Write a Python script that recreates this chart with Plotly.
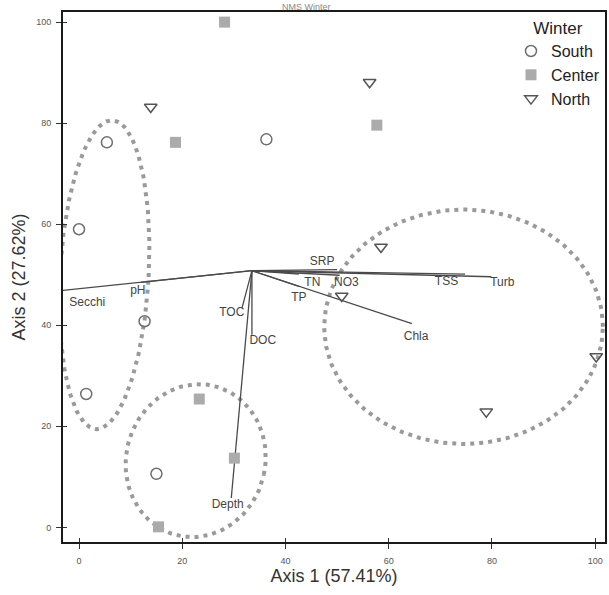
import numpy as np
import plotly.graph_objects as go

# Site scores on the two ordination axes
south_x = [5.4, 0.0, 36.3, 12.7, 1.4, 15.0]
south_y = [76.2, 59.0, 76.8, 40.8, 26.4, 10.6]
center_x = [28.2, 18.7, 57.7, 23.3, 30.1, 15.4]
center_y = [100.0, 76.2, 79.6, 25.4, 13.7, 0.1]
north_x = [13.9, 56.3, 58.5, 50.9, 100.2, 78.9]
north_y = [83.2, 88.1, 55.5, 45.8, 33.8, 22.9]

# Environmental vectors (joint plot) from the centroid
vec_origin = (33.5, 50.8)
vec_names = ["Secchi", "pH", "SRP", "TN", "NO3", "TSS", "Turb", "TP", "Chla", "TOC", "DOC", "Depth"]
vec_end_x = [-3.2, 12.0, 50.0, 42.6, 50.5, 74.8, 79.9, 42.6, 64.5, 31.6, 33.5, 29.5]
vec_end_y = [46.9, 48.5, 51.0, 50.1, 49.9, 50.1, 49.6, 47.7, 40.3, 43.5, 38.1, 5.8]
lab_x = [1.6, 11.4, 47.1, 45.2, 51.8, 71.2, 82.0, 42.6, 65.3, 29.6, 35.6, 28.8]
lab_y = [44.5, 46.8, 52.6, 48.4, 48.3, 48.6, 48.4, 45.4, 37.6, 42.4, 36.8, 4.5]

# Group ellipses: centre x, centre y, half-width, half-height, tilt (deg, clockwise)
ell_cx = [4.9, 22.6, 74.5]
ell_cy = [50.0, 13.2, 39.7]
ell_rx = [8.6, 13.5, 27.0]
ell_ry = [30.6, 15.2, 23.2]
ell_tilt = [3.0, 12.0, 0.0]

FONT = "Liberation Sans, Arial, sans-serif"

fig = go.Figure()

# Ellipses
t = np.linspace(0, 2 * np.pi, 240)
for cx, cy, rx, ry, tilt in zip(ell_cx, ell_cy, ell_rx, ell_ry, ell_tilt):
    a = np.deg2rad(tilt)
    ex = rx * np.cos(t)
    ey = ry * np.sin(t)
    xs = cx + ex * np.cos(a) + ey * np.sin(a)
    ys = cy - ex * np.sin(a) + ey * np.cos(a)
    fig.add_trace(go.Scatter(
        x=xs, y=ys, mode="lines", showlegend=False, hoverinfo="skip",
        line=dict(color="#9a9a9a", width=4, dash="4px,5px"),
    ))

# Vectors
for ex_, ey_ in zip(vec_end_x, vec_end_y):
    fig.add_trace(go.Scatter(
        x=[vec_origin[0], ex_], y=[vec_origin[1], ey_], mode="lines",
        showlegend=False, hoverinfo="skip",
        line=dict(color="#4a4a4a", width=1.3),
    ))
fig.add_trace(go.Scatter(
    x=lab_x, y=lab_y, text=vec_names, mode="text", showlegend=False,
    textfont=dict(family=FONT, size=12, color="#444444"), hoverinfo="skip",
))

# Sites
fig.add_trace(go.Scatter(
    x=south_x, y=south_y, mode="markers", name="South",
    marker=dict(symbol="circle-open", size=11, color="#6f6f6f", line=dict(width=1.5)),
))
fig.add_trace(go.Scatter(
    x=center_x, y=center_y, mode="markers", name="Center",
    marker=dict(symbol="square", size=11, color="#ababab"),
))
fig.add_trace(go.Scatter(
    x=north_x, y=north_y, mode="markers", name="North",
    marker=dict(symbol="triangle-down-open", size=11, color="#555555", line=dict(width=1.5)),
))

# Overlay axes to give ticks that cross the frame
fig.add_trace(go.Scatter(x=[None], y=[None], xaxis="x2", yaxis="y2", showlegend=False))

xr = [-3.1, 101.9]
yr = [-2.9, 102.0]
tick_font = dict(family=FONT, size=9, color="#555555")
title_font = dict(family=FONT, size=18, color="#333333")

fig.update_layout(
    width=609, height=595,
    margin=dict(l=63, r=2, t=12, b=53),
    paper_bgcolor="white", plot_bgcolor="white",
    font=dict(family=FONT, color="#333333"),
    xaxis=dict(
        range=xr, tickvals=[0, 20, 40, 60, 80, 100], showgrid=False, zeroline=False,
        showline=True, linewidth=2, linecolor="#1a1a1a", mirror=True,
        ticks="outside", ticklen=5, tickcolor="#333333", tickwidth=1,
        tickfont=tick_font, ticklabelstandoff=4,
        title=dict(text="Axis 1 (57.41%)", font=title_font, standoff=5),
    ),
    yaxis=dict(
        range=yr, tickvals=[0, 20, 40, 60, 80, 100], showgrid=False, zeroline=False,
        showline=True, linewidth=2, linecolor="#1a1a1a", mirror=True,
        ticks="outside", ticklen=5, tickcolor="#333333", tickwidth=1,
        tickfont=tick_font, ticklabelstandoff=3,
        title=dict(text="Axis 2 (27.62%)", font=title_font, standoff=6),
    ),
    xaxis2=dict(range=xr, overlaying="x", tickvals=[0, 20, 40, 60, 80, 100], showticklabels=False,
                ticks="inside", ticklen=4, tickcolor="#333333", showgrid=False, zeroline=False, anchor="y2"),
    yaxis2=dict(range=yr, overlaying="y", tickvals=[0, 20, 40, 60, 80, 100], showticklabels=False,
                ticks="inside", ticklen=4, tickcolor="#333333", showgrid=False, zeroline=False, anchor="x2"),
    legend=dict(
        x=1.0, y=1.0, xanchor="right", yanchor="top",
        bgcolor="rgba(255,255,255,0)", borderwidth=0,
        font=dict(family=FONT, size=16, color="#222222"),
        title=dict(text="Winter", side="top center", font=dict(family=FONT, size=17, color="#222222")),
        itemwidth=30, tracegroupgap=0,
    ),
    annotations=[dict(
        text="NMS Winter", xref="paper", yref="paper", x=0.45, y=1, yanchor="top",
        yshift=12, showarrow=False, font=dict(family=FONT, size=9, color="#888888"),
    )],
)

fig.write_html("out.html")
